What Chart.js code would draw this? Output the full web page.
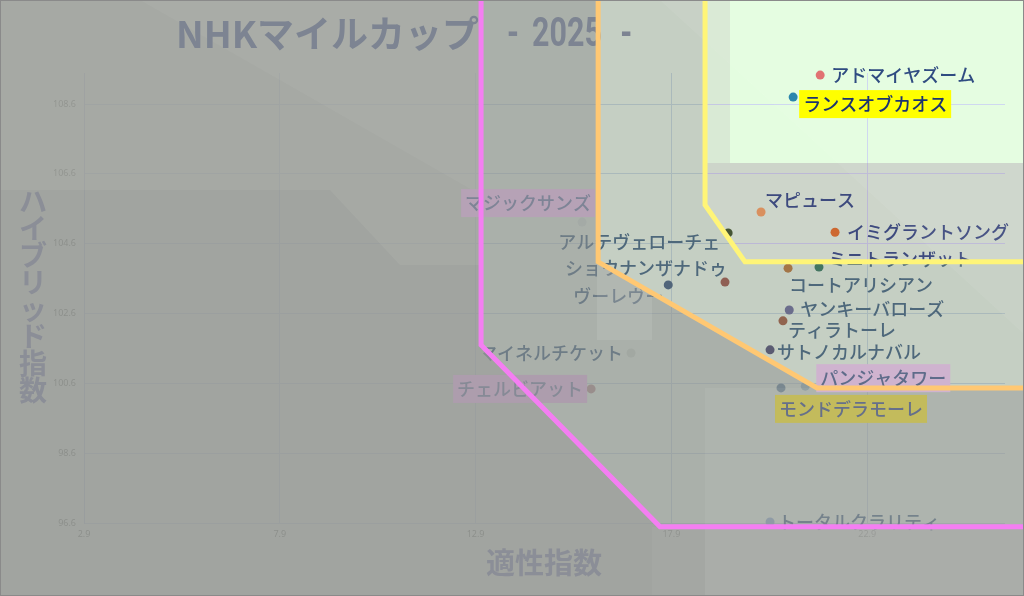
<!DOCTYPE html>
<html>
<head>
<meta charset="utf-8">
<script src="https://cdn.jsdelivr.net/npm/chart.js@4.4.1/dist/chart.umd.min.js"></script>
<style>
  html, body { margin: 0; padding: 0; background: #fff; }
  #wrap { width: 1024px; height: 596px; }
</style>
</head>
<body>
<div id="wrap"><canvas id="chart" width="1024" height="596"></canvas></div>
<script>
const horses = ["アドマイヤズーム", "ランスオブカオス", "マピュース", "イミグラントソング", "アルテヴェローチェ",
  "マジックサンズ", "ショウナンザナドゥ", "ヴーレヴー", "ミニトランザット", "コートアリシアン",
  "ヤンキーバローズ", "ティラトーレ", "サトノカルナバル", "パンジャタワー", "モンドデラモーレ",
  "マイネルチケット", "チェルビアット", "トータルクラリティ"];
const tekisei = [21.70, 21.01, 20.19, 22.08, 19.35, 15.62, 19.27, 17.82, 21.67, 20.88,
  20.91, 20.75, 20.42, 21.32, 20.70, 16.87, 15.85, 20.42];
const hybrid = [109.43, 108.80, 105.51, 104.93, 104.91, 105.22, 103.50, 103.42, 103.93, 103.90,
  102.70, 102.39, 101.56, 100.52, 100.47, 101.47, 100.44, 96.63];
const xTicks = [2.9, 7.9, 12.9, 17.9, 22.9];
const yTicks = [96.6, 98.6, 100.6, 102.6, 104.6, 106.6, 108.6];

// zone borders (in data units)
const magentaZone = [[13.04, 112], [13.04, 101.70], [17.61, 96.49], [28, 96.49]];
const orangeZone = [[16.03, 112], [16.03, 104.08], [21.62, 100.47], [28, 100.47]];
const yellowZone = [[18.76, 112], [18.76, 105.71], [19.78, 104.08], [28, 104.08]];

const dotColors = ["#e06a6a", "#1f7fa8", "#f5a050", "#e46a12", "#2d5016",
  "#e8e8f0", "#9c3030", "#2a3c78", "#0f5a4a", "#c05a1a",
  "#5a4a9a", "#a03a2a", "#3a2a6a", "#9ab0d0", "#4a6a9a",
  "#e0e0e0", "#c08090", "#8aa0e0"];

// label placement: [align, dx, dy]
const labelPos = [["left", 11, 0], ["left", 10, 7], ["left", 4, -12], ["left", 12, 0], ["right", -8, 9],
  ["right", 9, -19], ["right", 2, -14], ["right", -5, 11], ["left", 9, -8], ["left", 1, 17],
  ["left", 11, -1], ["left", 5, 9], ["left", 7, 2], ["left", 15, -8], ["left", -2, 21],
  ["right", -8, 0], ["right", -8, 0], ["left", 8, 0]];

// boxed labels drawn above the shading: [box, text]
const labelBox = {
  1: ["#ffff00", "#1c3470"],
  5: ["#b6a2b6", "#7e8496"],
  13: ["#cfb3cf", "#5f6c8a"],
  14: ["#c3bb5c", "#66708a"],
  16: ["#ad9dad", "#868a96"]
};

// soft light patches of the backdrop (canvas px)
const lightPatches = [
  [[[0, 0], [481, 0], [481, 265], [400, 265], [330, 190], [0, 190]], "rgba(255,255,245,0.06)"],
  [[[140, 0], [481, 0], [481, 195]], "rgba(255,255,245,0.04)"],
  [[[597, 262], [652, 293], [652, 340], [597, 340]], "rgba(255,255,250,0.09)"],
  [[[652, 527], [1024, 527], [1024, 596], [652, 596]], "rgba(255,255,250,0.04)"],
  [[[705, 527], [1024, 527], [1024, 596], [705, 596]], "rgba(255,255,250,0.07)"],
  [[[705, 388], [1024, 388], [1024, 527], [705, 527]], "rgba(255,255,250,0.05)"],
  [[[660, 0], [1024, 0], [1024, 334]], "rgba(255,255,250,0.06)"],
  [[[705, 0], [730, 0], [730, 163], [705, 163]], "rgba(140,100,140,0.12)"]
];

const FONT = "'Noto Sans CJK JP', 'Noto Sans', sans-serif";

function zonePath(ctx, chart, pts) {
  const xs = chart.scales.x, ys = chart.scales.y;
  ctx.moveTo(xs.getPixelForValue(pts[0][0]), ys.getPixelForValue(pts[0][1]));
  pts.slice(1).forEach(p => ctx.lineTo(xs.getPixelForValue(p[0]), ys.getPixelForValue(p[1])));
  ctx.lineTo(xs.getPixelForValue(28), ys.getPixelForValue(112));
  ctx.closePath();
}

function zoneLine(ctx, chart, pts, color) {
  const xs = chart.scales.x, ys = chart.scales.y;
  ctx.beginPath();
  pts.forEach((p, i) => {
    const x = xs.getPixelForValue(p[0]), y = ys.getPixelForValue(p[1]);
    i ? ctx.lineTo(x, y) : ctx.moveTo(x, y);
  });
  ctx.strokeStyle = color;
  ctx.lineWidth = 5;
  ctx.lineJoin = "miter";
  ctx.stroke();
}

function labelText(ctx, el, i) {
  const p = labelPos[i];
  ctx.textAlign = p[0];
  ctx.fillText(horses[i], el.x + p[1], el.y + p[2]);
}

const background = {
  id: "background",
  beforeDraw(chart) {
    const ctx = chart.ctx;
    ctx.save();
    ctx.fillStyle = "#ffffff";
    ctx.fillRect(0, 0, chart.width, chart.height);
    ctx.beginPath();
    zonePath(ctx, chart, yellowZone);
    ctx.fillStyle = "#e4fde0";
    ctx.fill();
    ctx.restore();
  }
};

const labels = {
  id: "labels",
  afterDatasetsDraw(chart) {
    const ctx = chart.ctx;
    const meta = chart.getDatasetMeta(0);
    ctx.save();
    ctx.font = "500 18px " + FONT;
    ctx.textBaseline = "middle";
    ctx.fillStyle = "#23417a";
    meta.data.forEach((el, i) => {
      if (labelBox[i]) return;
      labelText(ctx, el, i);
    });
    ctx.restore();
  }
};

const shading = {
  id: "shading",
  afterDraw(chart) {
    const ctx = chart.ctx;
    const W = chart.width, H = chart.height;
    ctx.save();

    ctx.beginPath();
    ctx.rect(0, 0, W, H);
    zonePath(ctx, chart, magentaZone);
    ctx.fillStyle = "rgba(148,151,147,0.88)";
    ctx.fill("evenodd");

    ctx.beginPath();
    zonePath(ctx, chart, magentaZone);
    zonePath(ctx, chart, orangeZone);
    ctx.fillStyle = "rgba(138,147,138,0.73)";
    ctx.fill("evenodd");

    ctx.beginPath();
    zonePath(ctx, chart, orangeZone);
    zonePath(ctx, chart, yellowZone);
    ctx.fillStyle = "rgba(128,150,124,0.46)";
    ctx.fill("evenodd");

    // lower part of the yellow zone is dimmer
    ctx.save();
    ctx.beginPath();
    zonePath(ctx, chart, yellowZone);
    ctx.clip();
    ctx.fillStyle = "rgba(140,100,140,0.26)";
    ctx.fillRect(0, 163, W, H);
    ctx.restore();

    lightPatches.forEach(([pts, color]) => {
      ctx.beginPath();
      pts.forEach((p, i) => i ? ctx.lineTo(p[0], p[1]) : ctx.moveTo(p[0], p[1]));
      ctx.closePath();
      ctx.fillStyle = color;
      ctx.fill();
    });

    // title and axis titles
    ctx.textBaseline = "middle";
    ctx.fillStyle = "#7d8492";
    ctx.textAlign = "left";
    ctx.font = "bold 37px " + FONT;
    ctx.fillText("NHKマイルカップ", 176, 34);
    ctx.font = "bold 40px Roboto, sans-serif";
    ctx.save();
    ctx.translate(507, 36);
    ctx.scale(0.76, 1);
    ctx.fillText("-", 0, 0);
    ctx.fillText("2025", 33, 0);
    ctx.fillText("-", 149, 0);
    ctx.restore();

    ctx.fillStyle = "#8b8e97";
    ctx.font = "bold 29px " + FONT;
    ctx.textAlign = "center";
    ctx.fillText("適性指数", 544, 563);
    ctx.font = "bold 28px " + FONT;
    Array.from("ハイブリッド指数").forEach((ch, i) => ctx.fillText(ch, 33, 201 + i * 27.1));

    // boxed labels
    const meta = chart.getDatasetMeta(0);
    ctx.font = "500 18px " + FONT;
    Object.keys(labelBox).forEach(k => {
      const i = +k, el = meta.data[i], p = labelPos[i];
      const w = ctx.measureText(horses[i]).width;
      const tx = p[0] === "left" ? el.x + p[1] : el.x + p[1] - w;
      ctx.fillStyle = labelBox[i][0];
      ctx.fillRect(tx - 4, el.y + p[2] - 14, w + 8, 28);
      ctx.fillStyle = labelBox[i][1];
      labelText(ctx, el, i);
    });

    zoneLine(ctx, chart, magentaZone, "#f47ef2");
    zoneLine(ctx, chart, orangeZone, "#ffc873");
    zoneLine(ctx, chart, yellowZone, "#fff578");

    ctx.strokeStyle = "#8a8a8a";
    ctx.lineWidth = 1;
    ctx.strokeRect(0.5, 0.5, W - 1, H - 1);
    ctx.restore();
  }
};

new Chart(document.getElementById("chart"), {
  type: "scatter",
  data: {
    datasets: [{
      data: horses.map((h, i) => ({ x: tekisei[i], y: hybrid[i] })),
      pointBackgroundColor: dotColors,
      pointBorderWidth: 0,
      pointRadius: 4.5,
      clip: false
    }]
  },
  options: {
    responsive: false,
    animation: false,
    devicePixelRatio: 1,
    layout: { padding: { top: 73, right: 19, left: 0, bottom: 0 } },
    plugins: { legend: { display: false }, tooltip: { enabled: false } },
    scales: {
      x: {
        min: 2.9,
        max: 26.42,
        afterBuildTicks: s => { s.ticks = xTicks.map(v => ({ value: v })); },
        afterFit: s => { s.height = 73; },
        grid: { color: "#cdd6f0", drawTicks: false },
        border: { display: false },
        ticks: { color: "#555", padding: 6, font: { size: 9, family: "'Noto Sans'" }, callback: v => v.toFixed(1) }
      },
      y: {
        min: 96.6,
        max: 109.49,
        afterBuildTicks: s => { s.ticks = yTicks.map(v => ({ value: v })); },
        afterFit: s => { s.width = 84; },
        grid: { color: "#cdd6f0", drawTicks: false },
        border: { display: true, color: "#b8c2e8" },
        ticks: { color: "#555", padding: 8, font: { size: 9, family: "'Noto Sans'" }, callback: v => v.toFixed(1) }
      }
    }
  },
  plugins: [background, labels, shading]
});
</script>
</body>
</html>
